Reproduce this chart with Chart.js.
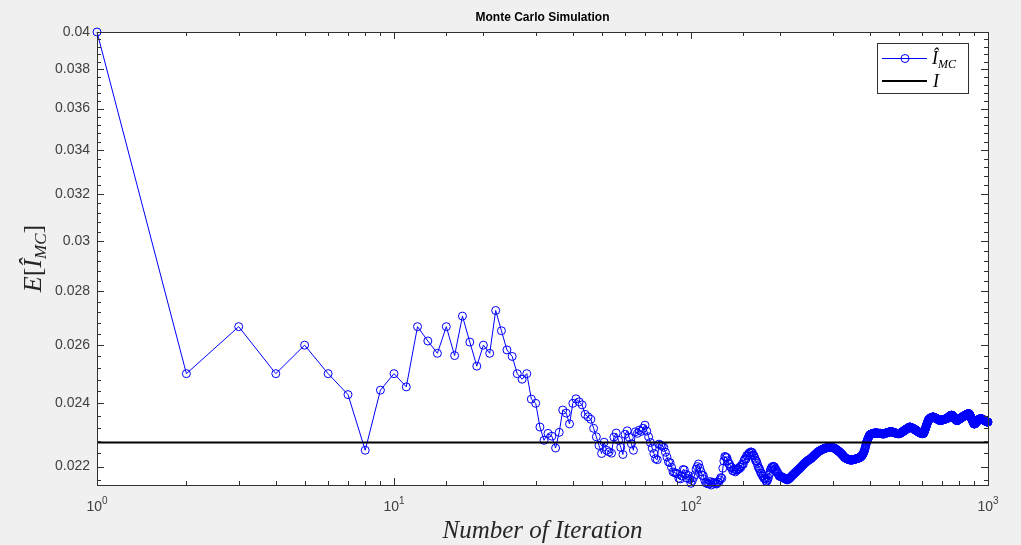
<!DOCTYPE html>
<html>
<head>
<meta charset="utf-8">
<title>Monte Carlo Simulation</title>
<script src="https://cdn.jsdelivr.net/npm/chart.js@4.4.1/dist/chart.umd.min.js"></script>
<style>
 html,body{margin:0;padding:0;background:#f0f0f0;}
 #wrap{width:1021px;height:545px;}
</style>
</head>
<body>
<div id="wrap"><canvas id="chart_mc" width="1021" height="545"></canvas></div>
<script>
// running mean of the MC estimate, one value per iteration n = 1..1000
var mc_mean=[
0.04,0.025,0.02667,0.025,0.026,0.025,0.02429,0.0225,0.02444,0.025,
0.02455,0.02667,0.02615,0.02571,0.02667,0.02563,0.02706,0.02611,0.02526,0.026,
0.02571,0.02727,0.02652,0.02583,0.0256,0.025,0.02481,0.025,0.02414,0.024,
0.02323,0.02281,0.02303,0.02294,0.02257,0.02306,0.02378,0.02368,0.02333,0.024,
0.02415,0.02405,0.02395,0.02364,0.02356,0.02348,0.02319,0.02292,0.02265,0.0224,
0.02275,0.0225,0.02245,0.02241,0.02291,0.02304,0.02281,0.02259,0.02237,0.023,
0.02311,0.0229,0.0227,0.0225,0.02308,0.02303,0.02313,0.02309,0.02319,0.02329,
0.0231,0.02292,0.02274,0.02257,0.0224,0.02224,0.02221,0.02269,0.02266,0.02263,
0.02259,0.02244,0.02229,0.02214,0.02212,0.02198,0.02184,0.02182,0.0218,0.02178,
0.02165,0.02163,0.02172,0.02191,0.0219,0.02177,0.02165,0.02173,0.02162,0.0215,
0.02158,0.02167,0.02175,0.02192,0.022,0.02208,0.02196,0.02185,0.02174,0.02173,
0.02162,0.02152,0.0215,0.02149,0.02148,0.02155,0.02145,0.02153,0.02151,0.0215,
0.02149,0.02148,0.02154,0.02153,0.0216,0.02167,0.02165,0.02195,0.02217,0.02231,
0.02229,0.02227,0.02218,0.02209,0.02207,0.02199,0.02197,0.02188,0.02187,0.02193,
0.02184,0.0219,0.02189,0.02194,0.02193,0.02199,0.02197,0.02203,0.02208,0.02207,
0.02219,0.02224,0.02222,0.02234,0.02232,0.02237,0.02242,0.02241,0.02245,0.02244,
0.02242,0.02235,0.02233,0.02226,0.02218,0.02217,0.0221,0.02202,0.02195,0.02194,
0.02187,0.0218,0.02179,0.02172,0.02171,0.02165,0.02164,0.02163,0.02156,0.02156,
0.0216,0.02165,0.02175,0.02179,0.02189,0.02194,0.02198,0.02197,0.02201,0.022,
0.02199,0.02193,0.02192,0.02186,0.02185,0.02179,0.02178,0.02172,0.02171,0.0217,
0.02169,0.0217,0.02168,0.02167,0.02165,0.02166,0.02164,0.02163,0.02162,0.02161,
0.0216,0.02161,0.02163,0.02164,0.02165,0.02167,0.02169,0.02171,0.02173,0.02175,
0.02176,0.02178,0.0218,0.02181,0.02183,0.02184,0.02186,0.02188,0.0219,0.02191,
0.02192,0.02194,0.02196,0.02197,0.02199,0.02201,0.02203,0.02204,0.02206,0.02208,
0.0221,0.02211,0.02212,0.02214,0.02215,0.02216,0.02218,0.02219,0.0222,0.02221,
0.02222,0.02223,0.02224,0.02225,0.02227,0.02228,0.0223,0.02231,0.02233,0.02234,
0.02236,0.02237,0.02238,0.0224,0.02241,0.02242,0.02244,0.02245,0.02246,0.02247,
0.02248,0.02249,0.0225,0.0225,0.02251,0.02252,0.02253,0.02253,0.02254,0.02255,
0.02255,0.02256,0.02256,0.02257,0.02257,0.02258,0.02258,0.02258,0.02259,0.02259,
0.02259,0.0226,0.0226,0.0226,0.0226,0.0226,0.0226,0.02259,0.02259,0.02258,
0.02258,0.02257,0.02257,0.02256,0.02256,0.02255,0.02254,0.02253,0.02252,0.02251,
0.0225,0.02249,0.02248,0.02247,0.02246,0.02245,0.02244,0.02243,0.02242,0.0224,
0.02239,0.02238,0.02236,0.02235,0.02234,0.02232,0.02231,0.02229,0.02228,0.02227,
0.02226,0.02226,0.02225,0.02224,0.02224,0.02223,0.02223,0.02222,0.02222,0.02221,
0.02221,0.02221,0.0222,0.0222,0.0222,0.0222,0.0222,0.0222,0.0222,0.02221,
0.02221,0.02221,0.02221,0.02222,0.02222,0.02222,0.02223,0.02223,0.02223,0.02224,
0.02224,0.02224,0.02225,0.02225,0.02225,0.02226,0.02226,0.02227,0.02227,0.02228,
0.02228,0.02229,0.0223,0.02231,0.02232,0.02233,0.02234,0.02236,0.02238,0.0224,
0.02242,0.02244,0.02247,0.0225,0.02254,0.02258,0.02262,0.02266,0.02271,0.02274,
0.02277,0.0228,0.02283,0.02285,0.02288,0.0229,0.02292,0.02295,0.02297,0.02298,
0.02299,0.02299,0.023,0.023,0.02301,0.02301,0.02302,0.02302,0.02302,0.02303,
0.02303,0.02303,0.02303,0.02304,0.02304,0.02304,0.02304,0.02304,0.02304,0.02304,
0.02304,0.02304,0.02304,0.02304,0.02304,0.02303,0.02303,0.02303,0.02303,0.02303,
0.02303,0.02303,0.02303,0.02303,0.02303,0.02302,0.02302,0.02302,0.02302,0.02302,
0.02301,0.02301,0.02302,0.02302,0.02302,0.02301,0.02301,0.02302,0.02302,0.02303,
0.02303,0.02303,0.02304,0.02304,0.02304,0.02305,0.02305,0.02305,0.02306,0.02306,
0.02306,0.02306,0.02307,0.02307,0.02307,0.02307,0.02308,0.02308,0.02308,0.02308,
0.02308,0.02308,0.02308,0.02308,0.02308,0.02307,0.02307,0.02307,0.02307,0.02306,
0.02306,0.02306,0.02305,0.02305,0.02305,0.02304,0.02304,0.02304,0.02304,0.02303,
0.02303,0.02303,0.02303,0.02302,0.02302,0.02302,0.02302,0.02302,0.02302,0.02302,
0.02302,0.02302,0.02302,0.02302,0.02303,0.02303,0.02304,0.02304,0.02305,0.02305,
0.02306,0.02306,0.02307,0.02307,0.02308,0.02308,0.02309,0.02309,0.0231,0.0231,
0.02311,0.02311,0.02312,0.02313,0.02313,0.02314,0.02314,0.02315,0.02315,0.02316,
0.02316,0.02317,0.02317,0.02318,0.02318,0.02319,0.02319,0.0232,0.0232,0.02321,
0.02321,0.02322,0.02322,0.02323,0.02323,0.02323,0.02323,0.02322,0.02322,0.02322,
0.02321,0.02321,0.02321,0.0232,0.0232,0.0232,0.02319,0.02319,0.02319,0.02318,
0.02318,0.02317,0.02317,0.02317,0.02316,0.02316,0.02315,0.02315,0.02314,0.02314,
0.02313,0.02313,0.02312,0.02312,0.02311,0.02311,0.0231,0.0231,0.02309,0.02309,
0.02308,0.02308,0.02307,0.02307,0.02307,0.02306,0.02306,0.02306,0.02305,0.02305,
0.02305,0.02304,0.02304,0.02304,0.02303,0.02303,0.02303,0.02303,0.02302,0.02302,
0.02302,0.02302,0.02302,0.02302,0.02302,0.02303,0.02304,0.02305,0.02306,0.02308,
0.02309,0.02311,0.02313,0.02315,0.02317,0.02319,0.02321,0.02323,0.02325,0.02327,
0.02329,0.02331,0.02333,0.02335,0.02337,0.02339,0.02341,0.02342,0.02344,0.02345,
0.02346,0.02347,0.02348,0.02348,0.02349,0.0235,0.0235,0.02351,0.02351,0.02352,
0.02352,0.02353,0.02353,0.02353,0.02354,0.02354,0.02354,0.02354,0.02355,0.02355,
0.02355,0.02355,0.02355,0.02355,0.02355,0.02355,0.02355,0.02354,0.02354,0.02354,
0.02353,0.02353,0.02353,0.02352,0.02352,0.02352,0.02351,0.02351,0.02351,0.0235,
0.0235,0.0235,0.02349,0.02349,0.02349,0.02348,0.02348,0.02348,0.02347,0.02347,
0.02347,0.02346,0.02346,0.02346,0.02345,0.02345,0.02345,0.02344,0.02344,0.02344,
0.02344,0.02344,0.02344,0.02344,0.02344,0.02345,0.02345,0.02345,0.02345,0.02346,
0.02346,0.02346,0.02346,0.02346,0.02347,0.02347,0.02347,0.02347,0.02347,0.02347,
0.02348,0.02348,0.02348,0.02348,0.02348,0.02349,0.02349,0.02349,0.02349,0.02349,
0.02349,0.0235,0.0235,0.0235,0.0235,0.0235,0.0235,0.02351,0.02351,0.02352,
0.02352,0.02353,0.02353,0.02354,0.02354,0.02354,0.02355,0.02355,0.02356,0.02356,
0.02357,0.02357,0.02358,0.02358,0.02359,0.02359,0.02359,0.0236,0.0236,0.0236,
0.02361,0.02361,0.02361,0.02361,0.02361,0.02361,0.02361,0.0236,0.0236,0.02359,
0.02359,0.02358,0.02357,0.02357,0.02356,0.02355,0.02355,0.02354,0.02353,0.02352,
0.02352,0.02351,0.0235,0.0235,0.02349,0.02348,0.02348,0.02347,0.02347,0.02346,
0.02346,0.02345,0.02345,0.02345,0.02344,0.02344,0.02344,0.02344,0.02344,0.02345,
0.02345,0.02345,0.02346,0.02346,0.02347,0.02347,0.02348,0.02348,0.02348,0.02349,
0.02349,0.02349,0.0235,0.0235,0.0235,0.02351,0.02351,0.02351,0.02352,0.02352,
0.02352,0.02353,0.02353,0.02353,0.02354,0.02354,0.02354,0.02355,0.02355,0.02355,
0.02356,0.02356,0.02356,0.02357,0.02357,0.02357,0.02358,0.02358,0.02358,0.02358,
0.02359,0.02359,0.02359,0.02359,0.0236,0.0236,0.0236,0.0236,0.02361,0.02361,
0.02361,0.02362,0.02362,0.02362,0.02363,0.02363,0.02363,0.02363,0.02364,0.02364,
0.02364,0.02364,0.02365,0.02365,0.02365,0.02365,0.02366,0.02366,0.02366,0.02366,
0.02366,0.02366,0.02366,0.02365,0.02365,0.02364,0.02363,0.02362,0.02361,0.0236,
0.02359,0.02358,0.02357,0.02356,0.02355,0.02354,0.02353,0.02352,0.02351,0.0235,
0.02349,0.02348,0.02347,0.02346,0.02345,0.02344,0.02343,0.02342,0.02341,0.0234,
0.02339,0.02338,0.02337,0.02336,0.02335,0.02334,0.02334,0.02333,0.02333,0.02333,
0.02333,0.02333,0.02334,0.02334,0.02335,0.02335,0.02336,0.02336,0.02337,0.02337,
0.02338,0.02338,0.02339,0.02339,0.0234,0.0234,0.02341,0.02341,0.02342,0.02342,
0.02343,0.02343,0.02344,0.02344,0.02345,0.02345,0.02345,0.02346,0.02346,0.02346,
0.02347,0.02347,0.02347,0.02348,0.02348,0.02348,0.02349,0.02349,0.02349,0.02349,
0.0235,0.0235,0.0235,0.0235,0.0235,0.0235,0.0235,0.0235,0.0235,0.0235,
0.02349,0.02349,0.02349,0.02349,0.02348,0.02348,0.02348,0.02348,0.02347,0.02347,
0.02347,0.02347,0.02347,0.02346,0.02346,0.02346,0.02346,0.02346,0.02345,0.02345,
0.02345,0.02345,0.02344,0.02344,0.02344,0.02344,0.02343,0.02343,0.02343,0.02343,
0.02342,0.02342,0.02342,0.02342,0.02341,0.02341,0.02341,0.02341,0.0234,0.0234,
0.0234,0.0234,0.0234,0.02339,0.02339,0.02339,0.02339,0.02339,0.02339,0.02339
];
var exact_value=0.02274;   // reference value I
var x_range=[1,1000];
var y_range=[0.02145,0.04];
var x_labels=[1,10,100,1000];
var y_labels=[0.022,0.024,0.026,0.028,0.03,0.032,0.034,0.036,0.038,0.04];
var y_minor_step=0.0004;

var mc_color="rgb(0,0,255)";
var axis_color="#303030";
var serif="'Liberation Serif','DejaVu Serif',serif";

function is_label(v,list)
{
 for(var i=0;i<list.length;i++)
 {
  if(Math.abs(v-list[i])<1e-9) return true;
 }
 return false;
}

// draws a run of differently styled text pieces starting at (x,y)
function text_runs(ctx,runs,x,y)
{
 for(var i=0;i<runs.length;i++)
 {
  ctx.font=runs[i].font;
  ctx.fillText(runs[i].t,x,y+(runs[i].dy||0));
  x+=ctx.measureText(runs[i].t).width;
 }
 return x;
}
function runs_width(ctx,runs)
{
 var w=0;
 for(var i=0;i<runs.length;i++){ ctx.font=runs[i].font; w+=ctx.measureText(runs[i].t).width; }
 return w;
}

var matlab_axes={
 id:'matlab_axes',
 beforeDraw:function(chart)
 {
  var a=chart.chartArea, ctx=chart.ctx;
  ctx.save();
  ctx.fillStyle="#ffffff";
  ctx.fillRect(a.left,a.top,a.right-a.left,a.bottom-a.top);
  ctx.restore();
 },
 afterDraw:function(chart)
 {
  var ctx=chart.ctx, a=chart.chartArea, sx=chart.scales.x, sy=chart.scales.y;
  ctx.save();
  ctx.strokeStyle=axis_color;
  ctx.lineWidth=1;
  ctx.strokeRect(Math.round(a.left)+0.5,Math.round(a.top)+0.5,Math.round(a.right-a.left),Math.round(a.bottom-a.top));

  // inward ticks on all four sides
  ctx.beginPath();
  sx.ticks.forEach(function(t){
   var px=Math.round(sx.getPixelForValue(t.value))+0.5;
   var len=is_label(t.value,x_labels)?7:4;
   ctx.moveTo(px,a.bottom); ctx.lineTo(px,a.bottom-len);
   ctx.moveTo(px,a.top); ctx.lineTo(px,a.top+len);
  });
  sy.ticks.forEach(function(t){
   var py=Math.round(sy.getPixelForValue(t.value))+0.5;
   var len=is_label(t.value,y_labels)?7:4;
   ctx.moveTo(a.left,py); ctx.lineTo(a.left+len,py);
   ctx.moveTo(a.right,py); ctx.lineTo(a.right-len,py);
  });
  ctx.stroke();

  // x tick labels as powers of ten
  ctx.fillStyle="#404040";
  ctx.textBaseline="alphabetic";
  ctx.textAlign="left";
  x_labels.forEach(function(v){
   var e=Math.round(Math.log10(v));
   var runs=[{t:"10",font:"14px Arial"},{t:String(e),font:"10px Arial",dy:-7}];
   var w=runs_width(ctx,runs);
   text_runs(ctx,runs,sx.getPixelForValue(v)-w/2,a.bottom+26);
  });

  // title
  ctx.fillStyle="#000000";
  ctx.font="bold 12px Arial";
  ctx.textAlign="center";
  ctx.fillText("Monte Carlo Simulation",(a.left+a.right)/2,a.top-11);

  // x axis title
  ctx.fillStyle="#262626";
  ctx.font="italic 25px "+serif;
  ctx.fillText("Number of Iteration",(a.left+a.right)/2,a.bottom+53);

  // y axis title E[Î_MC]
  ctx.textAlign="left";
  var yt=[{t:"E",font:"italic 26px "+serif},{t:"[",font:"26px "+serif},{t:"Î",font:"italic 26px "+serif},
          {t:"MC",font:"italic 17px "+serif,dy:5},{t:"]",font:"26px "+serif}];
  ctx.save();
  ctx.translate(a.left-64,(a.top+a.bottom)/2);
  ctx.rotate(-Math.PI/2);
  text_runs(ctx,yt,-runs_width(ctx,yt)/2,8);
  ctx.restore();

  // legend box
  var lx=a.right-111, ly=a.top+11, lw=91, lh=50;
  ctx.fillStyle="#ffffff";
  ctx.fillRect(lx,ly,lw,lh);
  ctx.strokeStyle=axis_color;
  ctx.strokeRect(lx+0.5,ly+0.5,lw,lh);
  ctx.strokeStyle=mc_color;
  ctx.lineWidth=1;
  ctx.beginPath(); ctx.moveTo(lx+5,ly+15.5); ctx.lineTo(lx+50,ly+15.5); ctx.stroke();
  ctx.beginPath(); ctx.arc(lx+28,ly+15.5,4,0,2*Math.PI); ctx.stroke();
  ctx.strokeStyle="#000000";
  ctx.lineWidth=2;
  ctx.beginPath(); ctx.moveTo(lx+5,ly+38); ctx.lineTo(lx+50,ly+38); ctx.stroke();
  ctx.fillStyle="#000000";
  text_runs(ctx,[{t:"Î",font:"italic 18px "+serif},{t:"MC",font:"italic 12px "+serif,dy:4}],lx+55,ly+21);
  text_runs(ctx,[{t:"I",font:"italic 18px "+serif}],lx+56,ly+44);
  ctx.restore();
 }
};

function mc_chart(chart_id)
{
 var points=mc_mean.map(function(v,i){ return {x:i+1,y:v}; });
 var exact_line=[{x:x_range[0],y:exact_value},{x:x_range[1],y:exact_value}];
 var chartid=document.getElementById(chart_id);

 var chart_obj=new Chart(chartid,{
   type:'line',
   data:
   {
   datasets:[{
     label:"I",
     data:exact_line,
     borderColor:"#000000",
     borderWidth:2,
     pointRadius:0,
     fill:false
     },{
     label:"Î_MC",
     data:points,
     borderColor:mc_color,
     borderWidth:1,
     pointRadius:4,
     pointBorderWidth:1,
     pointBorderColor:mc_color,
     pointBackgroundColor:"rgba(0,0,0,0)",
     pointHoverRadius:4,
     tension:0,
     clip:false,
     fill:false
     }]
   },
   options:
   {
    responsive:false,
    animation:false,
    devicePixelRatio:1,
    events:[],
    layout:{ padding:{left:0,right:33,top:32,bottom:0} },
    plugins:{ legend:{display:false}, title:{display:false}, tooltip:{enabled:false} },
    scales:
    {
      x:{
       type:'logarithmic',
       bounds:'data',
       min:x_range[0],
       max:x_range[1],
       grid:{display:false,drawTicks:false},
       border:{display:false},
       ticks:{display:false},
       afterFit:function(s){ s.height=60; }
      },
      y:{
       type:'logarithmic',
       bounds:'data',
       min:y_range[0],
       max:y_range[1],
       grid:{display:false,drawTicks:false},
       border:{display:false},
       afterBuildTicks:function(s){
        var t=[];
        for(var k=Math.ceil(y_range[0]/y_minor_step-1e-9);k*y_minor_step<=y_range[1]+1e-9;k++) t.push({value:k*y_minor_step});
        s.ticks=t;
       },
       ticks:{
        autoSkip:false,
        padding:7,
        color:"#404040",
        font:{family:"Arial",size:14},
        callback:function(v){ return is_label(v,y_labels)?String(+v.toFixed(3)):""; }
       },
       afterFit:function(s){ s.width=97; }
      }
    }
   },
   plugins:[matlab_axes]
 });
 return chart_obj;
}

mc_chart("chart_mc");
</script>
</body>
</html>
